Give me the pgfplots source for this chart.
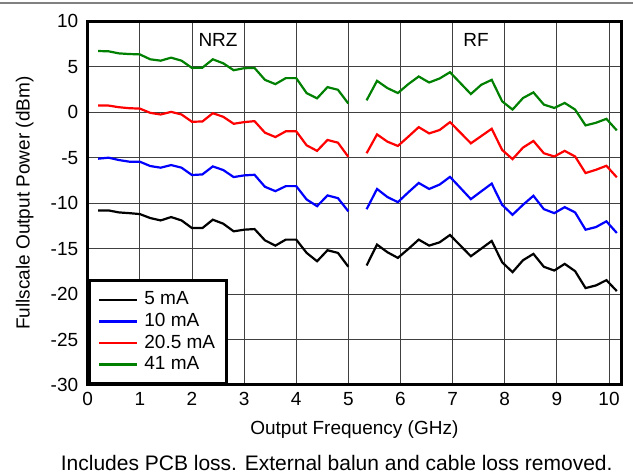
\documentclass[border=0pt]{standalone}
\usepackage{pgfplots}
\pgfplotsset{compat=1.18}
\usepackage{pgfplotstable}
\usepackage{fontspec}
\setmainfont{Liberation Sans}

\definecolor{dkgreen}{RGB}{0,128,0}

% NRZ band
\pgfplotstableread{
f a5 a10 a20 a41
0.2 -10.80 -5.11 0.73 6.73
0.4 -10.80 -5.00 0.73 6.70
0.6 -11.02 -5.26 0.55 6.47
0.8 -11.10 -5.44 0.44 6.40
1.0 -11.20 -5.44 0.40 6.36
1.2 -11.64 -5.92 -0.07 5.82
1.4 -11.90 -6.10 -0.25 5.67
1.6 -11.53 -5.81 0.04 6.00
1.8 -11.90 -6.10 -0.25 5.67
2.0 -12.74 -6.91 -1.05 4.87
2.2 -12.74 -6.84 -1.02 4.90
2.4 -11.82 -5.96 -0.11 5.82
2.6 -12.26 -6.36 -0.50 5.38
2.8 -13.10 -7.13 -1.27 4.62
3.0 -12.92 -6.95 -1.09 4.84
3.2 -12.85 -6.88 -0.98 4.87
3.4 -14.09 -8.20 -2.25 3.56
3.6 -14.67 -8.68 -2.73 3.09
3.8 -14.01 -8.13 -2.10 3.75
4.0 -14.01 -8.13 -2.10 3.75
4.2 -15.47 -9.60 -3.64 2.10
4.4 -16.39 -10.33 -4.25 1.53
4.6 -15.18 -9.15 -3.05 2.76
4.8 -15.47 -9.45 -3.35 2.47
5.0 -17.00 -10.90 -4.91 0.95
}\nrz

% RF band
\pgfplotstableread{
f a5 a10 a20 a41
5.35 -16.86 -10.67 -4.51 1.31
5.55 -14.56 -8.44 -2.44 3.45
5.75 -15.40 -9.33 -3.24 2.65
5.95 -16.02 -9.89 -3.71 2.11
6.15 -15.04 -8.81 -2.69 3.09
6.35 -14.01 -7.78 -1.64 3.93
6.55 -14.67 -8.44 -2.33 3.27
6.75 -14.31 -7.96 -1.96 3.71
6.95 -13.50 -7.11 -1.09 4.40
7.15 -14.67 -8.33 -2.25 3.20
7.35 -15.84 -9.56 -3.42 2.00
7.55 -15.00 -8.70 -2.62 3.02
7.75 -14.16 -7.85 -1.82 3.56
7.95 -16.50 -10.19 -4.15 1.20
8.15 -17.59 -11.28 -5.16 0.29
8.35 -16.28 -10.18 -3.89 1.56
8.55 -15.58 -9.19 -3.16 2.18
8.75 -17.00 -10.66 -4.51 0.84
8.95 -17.41 -11.10 -4.87 0.47
9.15 -16.68 -10.44 -4.25 1.02
9.35 -17.48 -11.02 -4.87 0.29
9.55 -19.34 -12.92 -6.69 -1.45
9.75 -19.05 -12.63 -6.33 -1.16
9.95 -18.47 -12.00 -5.89 -0.73
10.15 -19.67 -13.28 -7.16 -2.00
}\rf

\begin{document}
\fontsize{19}{21.5}\selectfont
\begin{tikzpicture}
\useasboundingbox (-87.7pt,-91pt) rectangle (545.3pt,385pt);
\begin{axis}[
    scale only axis,
    width=533.3pt, height=363.7pt,
    xmin=0, xmax=10.23,
    ymin=-30, ymax=10,
    xtick={0,1,...,10},
    ytick={-30,-25,...,10},
    /pgf/number format/assume math mode=true,
    grid=major,
    major grid style={black!75, line width=0.9pt},
    major tick length=0pt,
    axis line style={line width=3pt},
    yticklabel style={xshift=-3pt},
    xticklabel style={yshift=-1pt},
    xlabel={Output Frequency (GHz)},
    ylabel={Fullscale Output Power (dBm)},
    every axis x label/.style={at={(axis description cs:0.5,0)}, yshift=-45pt, anchor=center},
    every axis y label/.style={at={(axis description cs:0,0.5)}, xshift=-63pt, rotate=90, anchor=center},
    legend style={at={(0,0)}, anchor=south west, draw=black, line width=3pt,
        fill=white, inner xsep=9pt, inner ysep=9pt, row sep=1.5pt,
        nodes={inner sep=2pt}},
    legend cell align=left,
    legend image code/.code={\draw[line width=2.2pt] (0pt,0pt) -- (38pt,0pt);\path (42pt,0pt);},
    clip=false,
]
\addplot[black, line width=2.2pt] table[x=f,y=a5] {\nrz};
\addplot[blue, line width=2.2pt] table[x=f,y=a10] {\nrz};
\addplot[red, line width=2.2pt] table[x=f,y=a20] {\nrz};
\addplot[dkgreen, line width=2.2pt] table[x=f,y=a41] {\nrz};
\addplot[black, line width=2.2pt, forget plot] table[x=f,y=a5] {\rf};
\addplot[blue, line width=2.2pt, forget plot] table[x=f,y=a10] {\rf};
\addplot[red, line width=2.2pt, forget plot] table[x=f,y=a20] {\rf};
\addplot[dkgreen, line width=2.2pt, forget plot] table[x=f,y=a41] {\rf};
\legend{5 mA, 10 mA, 20.5 mA, 41 mA}
\node at (axis cs:2.5,7.9) {NRZ};
\node at (axis cs:7.45,7.9) {RF};
\draw[black!50, line width=1.5pt] (axis description cs:0,1) ++(-87.7pt,18.5pt) -- ++(633pt,0pt);
\node[font=\fontsize{21}{24}\selectfont] at (axis description cs:0,0) [xshift=249pt, yshift=-78pt] {Includes PCB loss. External balun and cable loss removed.};
\end{axis}
\end{tikzpicture}
\end{document}
